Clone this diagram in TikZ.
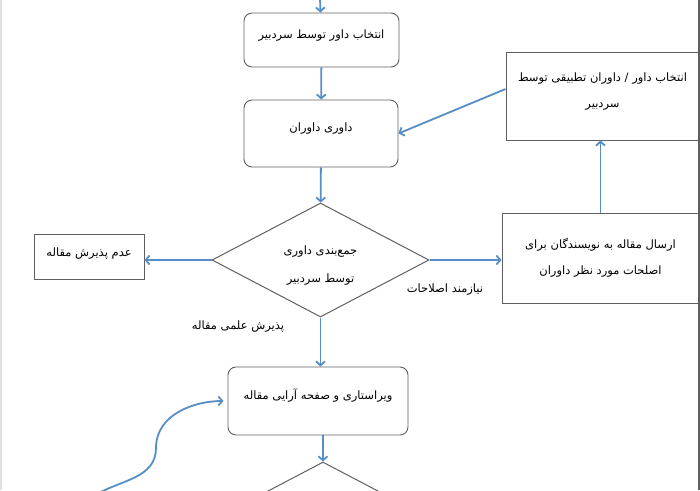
\documentclass[tikz,border=0pt]{standalone}
\usepackage{fontspec}
\newfontfamily\arabicfont[Script=Arabic]{DejaVu Sans}
\TeXXeTstate=1
\usetikzlibrary{shapes.geometric,arrows.meta}
\definecolor{flowblue}{RGB}{86,142,198}
\definecolor{boxgray}{RGB}{95,95,95}
\newcommand{\rl}[1]{\beginR #1\endR}

\begin{document}
\begin{tikzpicture}[x = 1pt, y = -1pt,
    box/.style = {draw = boxgray, line width = 0.9pt, inner sep = 0pt, align = center,
        font = \arabicfont\fontsize{11.5}{26}\selectfont},
    roundbox/.style = {box, rounded corners = 8pt},
    lift/.style = {text height = 8pt, text depth = 12pt},
    decision/.style = {box, shape = diamond, aspect = 2, minimum width = 217pt, minimum height = 114pt, line width = 1pt,
        text height = 48pt, font = \arabicfont\fontsize{11.5}{28}\selectfont},
    flow/.style = {draw = flowblue, line width = 1.8pt, -{Straight Barb[length = 4pt, width = 9pt]}},
    tag/.style = {font = \arabicfont\fontsize{11.5}{14}\selectfont, inner sep = 0pt}]
    \useasboundingbox (0,0) rectangle (700,490);
    \clip (0,0) rectangle (700,490);
    \draw [gray!25, line width = 2pt] (1,0) -- (1,490);
    \draw [boxgray, line width = 1.5pt] (699,0) -- (699,490);
    \node [roundbox, lift, minimum width = 155pt, minimum height = 54pt] (SEL) at (321.5, 40) {\rl{انتخاب داور توسط سردبیر}};
    \node [roundbox, lift, minimum width = 154pt, minimum height = 67pt] (REV) at (321, 133.5) {\rl{داوری داوران}};
    \node [box, text height = 25pt, minimum width = 193pt, minimum height = 88pt] (PICK) at (602.5, 96) {\rl{انتخاب داور / داوران تطبیقی توسط}\\ \rl{سردبیر}};
    \node [box, minimum width = 197pt, minimum height = 90pt] (SEND) at (600.5, 258) {\rl{ارسال مقاله به نویسندگان برای}\\ \rl{اصلحات مورد نظر داوران}};
    \node [decision] (DEC) at (320.5, 260) {\rl{جمع‌بندی داوری}\\ \rl{توسط سردبیر}};
    \node [box, lift, text depth = 9pt, minimum width = 110pt, minimum height = 45pt] (REJ) at (89, 256.5) {\rl{عدم پذیرش مقاله}};
    \node [roundbox, lift, minimum width = 180pt, minimum height = 68pt] (EDIT) at (318, 401) {\rl{ویراستاری و صفحه آرایی مقاله}};
    \node [decision] (DEC2) at (323, 519) {};
    \node [tag] (NEED) at (445, 290) {\rl{نیازمند اصلاحات}};
    \node [tag] (ACC) at (238, 327) {\rl{پذیرش علمی مقاله}};
    \coordinate (TOP) at (320, -2);
    \coordinate (LOOP) at (95, 495);
    \coordinate (BEND) at (156, 448);

    \draw [flow] (TOP) -- (SEL);
    \draw [flow] (SEL) -- (REV);
    \draw [flow] (REV) -- (DEC);
    \draw [flow] (DEC.west) -- (DEC.west -| REJ.east);
    \draw [flow] (DEC.east) -- (SEND.west |- DEC.east);
    \draw [flow] (SEND.north) -- (SEND.north |- PICK.south);
    \draw [flow] ([yshift = 7pt]PICK.west) -- (REV.east);
    \draw [flow] (DEC.south) -- (DEC.south |- EDIT.north);
    \draw [flow] (EDIT.south -| DEC2.north) -- (DEC2.north);
    \draw [flow, shorten > = 4pt] (LOOP) to [out = 30, in = -90] (BEND) to [out = 90, in = 180] (EDIT.west);
\end{tikzpicture}
\end{document}
